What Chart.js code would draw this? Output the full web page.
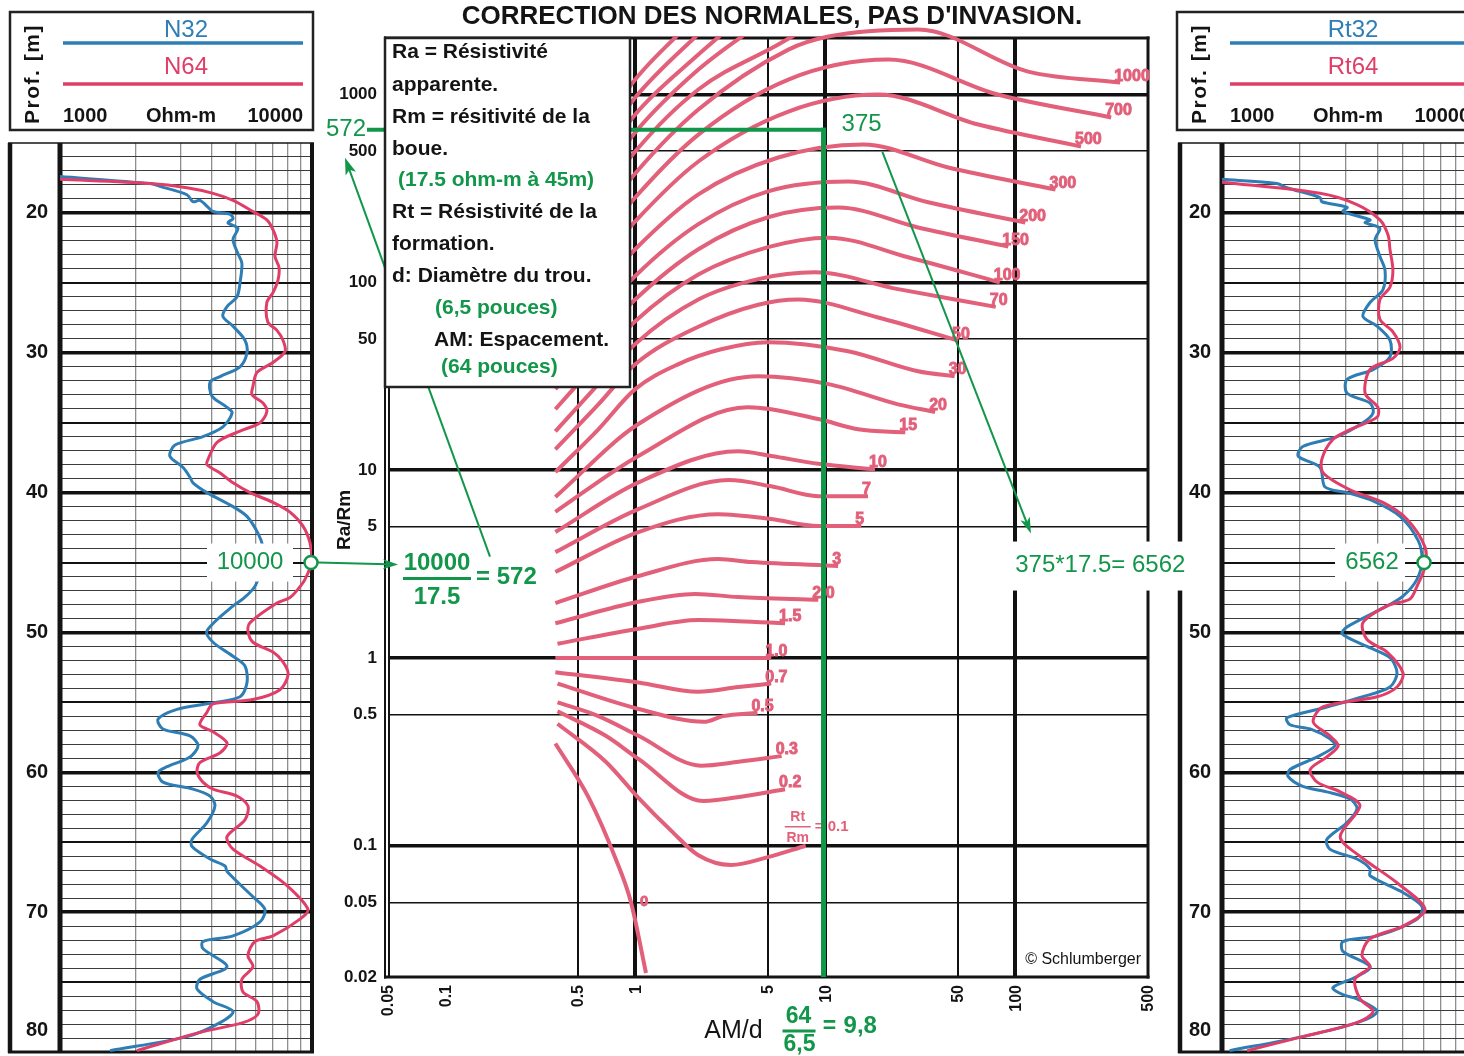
<!DOCTYPE html>
<html><head><meta charset="utf-8">
<script src="https://cdn.jsdelivr.net/npm/chart.js@4.4.1/dist/chart.umd.min.js"></script>
<style>
html,body{margin:0;padding:0;background:#fff;width:1464px;height:1056px;overflow:hidden;position:relative;}
canvas{position:absolute;left:0;top:0;}
</style></head><body>
<canvas id="cL" width="1464" height="1056"></canvas>
<canvas id="cC" width="1464" height="1056"></canvas>
<canvas id="cR" width="1500" height="1056"></canvas>
<canvas id="cO" width="1464" height="1056"></canvas>
<script>
// ---------------- DATA ----------------
// Left log track: [resistivity ohm-m, depth m]
const n32 = [[1000,17.4],[2280,17.9],[2490,18.1],[3190,18.7],[3370,19.2],[3590,19.1],[3870,19.6],[4050,19.9],[4730,20.1],[4860,20.4],[4640,20.7],[5080,21.1],[4860,21.9],[5080,22.9],[5270,23.6],[5180,25.0],[5040,26.0],[4600,26.7],[4430,27.4],[4860,28.1],[5420,29.1],[5520,30.0],[5180,31.0],[4320,31.7],[3940,32.1],[4010,33.1],[4600,33.9],[4820,34.3],[4430,35.3],[3690,36.0],[2860,36.6],[2730,37.4],[3080,38.2],[3280,38.9],[3370,39.3],[3830,40.0],[4860,41.0],[5520,41.7],[6100,42.9],[6390,43.9],[6390,44.8],[6050,46.4],[5830,46.9],[5320,47.6],[4860,48.1],[3830,49.9],[4050,50.7],[4860,51.7],[5420,52.4],[5520,53.6],[5180,54.6],[3830,55.1],[2910,55.5],[2450,56.2],[2560,56.9],[3280,57.4],[3530,58.1],[3280,58.9],[2660,59.6],[2450,60.0],[2560,60.7],[3370,61.2],[3940,61.7],[4120,62.4],[3830,63.6],[3340,64.8],[3340,65.3],[3940,66.2],[4520,66.7],[4600,67.1],[5830,68.9],[6500,69.8],[6220,70.7],[4860,71.7],[3690,72.1],[3690,72.6],[4600,73.9],[3590,74.8],[3500,75.5],[4050,76.4],[4860,77.1],[4320,77.9],[3190,78.9],[1580,79.9]];
const n64 = [[1000,17.6],[2280,17.9],[3190,18.2],[4050,18.6],[4860,19.1],[5830,19.9],[6620,20.5],[7000,21.2],[7260,22.1],[7130,23.1],[7400,23.9],[7330,24.8],[7000,25.7],[6620,26.4],[6680,27.8],[7260,28.4],[7670,29.1],[7820,29.9],[7000,30.7],[6050,31.4],[5830,32.4],[5780,33.0],[6390,33.6],[6620,34.2],[6220,35.0],[5180,35.6],[4200,36.4],[3870,37.6],[3830,38.0],[4320,38.6],[4860,39.3],[5680,40.0],[7000,40.7],[8180,41.4],[9210,42.4],[9820,43.6],[10000,44.9],[9380,46.2],[8800,46.9],[8180,47.5],[7260,47.9],[5680,49.3],[5570,49.9],[5830,50.7],[7000,51.4],[7670,52.1],[8040,53.0],[7460,54.1],[5830,54.8],[4050,55.1],[3830,55.7],[3590,56.6],[4050,57.1],[4600,57.9],[4320,58.6],[3590,59.3],[3500,60.0],[3690,60.7],[4050,61.2],[5040,61.7],[5570,62.4],[5420,63.4],[4600,64.6],[4860,65.5],[6220,66.7],[7960,68.1],[9640,69.8],[8960,70.5],[7000,71.7],[5940,72.1],[5570,73.1],[5830,73.9],[5270,74.8],[5320,75.7],[6050,76.4],[6100,77.3],[5320,77.9],[3590,78.6],[2020,79.9]];
// Right log track (corrected): [resistivity ohm-m, depth m]
const rt32 = [[1000,17.6],[1630,17.9],[1780,18.2],[2390,18.9],[2430,19.2],[3040,19.6],[2930,19.9],[3730,20.5],[3570,20.7],[4070,21.1],[3900,21.9],[4070,23.1],[4260,24.1],[4180,25.5],[3730,26.4],[3500,27.4],[3970,28.1],[4450,29.1],[4450,30.3],[3830,31.2],[3040,31.9],[3040,32.9],[3730,33.6],[3830,34.3],[3500,35.0],[2780,36.0],[2050,36.7],[1970,37.4],[2390,38.2],[2500,39.6],[3040,40.0],[3830,40.6],[4870,41.7],[5710,43.4],[5920,44.8],[5660,46.2],[5000,47.4],[4340,48.1],[3040,49.6],[2910,50.1],[3630,51.0],[4450,51.8],[4740,52.9],[4450,53.9],[3500,54.6],[2460,55.4],[1780,56.1],[1830,56.6],[2190,56.9],[2610,57.6],[2730,58.1],[2330,58.9],[1830,59.8],[1800,60.3],[2050,61.0],[2540,61.4],[3120,61.9],[3320,62.6],[3040,63.6],[2540,64.8],[2610,65.5],[3320,66.2],[3730,66.9],[3730,67.4],[5000,68.6],[5920,69.6],[5660,70.5],[3970,71.7],[2930,72.1],[2930,72.8],[3730,73.9],[3320,74.6],[2680,75.4],[2930,75.9],[3320,76.2],[3970,77.1],[3320,77.9],[2050,78.9],[1070,79.9]];
const rt64 = [[1000,17.8],[2390,18.6],[3320,19.4],[4070,20.5],[4380,21.6],[4450,22.6],[4570,24.1],[4450,25.3],[4070,26.2],[4070,27.6],[4570,28.5],[4870,29.6],[4570,30.4],[3730,31.2],[3570,32.9],[4000,33.9],[3970,34.6],[3120,35.5],[2680,36.2],[2430,37.6],[2460,38.6],[3120,39.8],[4180,40.7],[5180,41.9],[6080,43.9],[6080,45.3],[5660,46.7],[5320,47.6],[4340,48.1],[3500,49.3],[3630,50.5],[4340,51.4],[5000,52.9],[4740,53.9],[3970,54.6],[2460,55.3],[2250,56.4],[2610,57.4],[2810,58.1],[2540,58.9],[2190,59.8],[2330,60.7],[2860,61.4],[3410,62.4],[2860,64.6],[3410,66.0],[4740,67.9],[6080,69.8],[5000,71.0],[3730,71.9],[3470,73.1],[3730,73.9],[3260,74.8],[3410,76.2],[3830,77.1],[3320,77.9],[2050,78.9],[1250,79.9]];

// Center chart: departure curves [AM/d, Ra/Rm] for each Rt/Rm
const c_0    = [[0.38,0.35],[0.57,0.18],[0.79,0.085],[0.95,0.05],[1.14,0.021]];
const c_0_1  = [[0.39,0.446],[0.7,0.28],[1.04,0.18],[1.55,0.12],[2.15,0.089],[3.2,0.079],[5.0,0.087],[7.9,0.1]];
const c_0_2  = [[0.39,0.52],[0.7,0.385],[1.04,0.29],[2.28,0.173],[3.8,0.184],[6.15,0.2]];
const c_0_3  = [[0.39,0.58],[0.64,0.49],[1.04,0.385],[2.22,0.267],[3.5,0.28],[5.9,0.3]];
const c_0_5  = [[0.39,0.73],[1.04,0.535],[2.3,0.457],[2.9,0.49],[4.4,0.51]];
const c_0_7  = [[0.38,0.84],[1.04,0.74],[2.15,0.66],[3.5,0.7],[5.2,0.73]];
const c_1_0  = [[0.38,1],[5.2,1]];
const c_1_5  = [[0.39,1.19],[1.04,1.43],[2.15,1.59],[3.5,1.57],[6.15,1.53]];
const c_2_0  = [[0.38,1.53],[1.04,1.99],[2.07,2.19],[3.48,2.11],[9.2,2.04]];
const c_3    = [[0.38,1.96],[1.04,2.73],[2.73,3.36],[4.1,3.24],[11.7,3.09]];
const c_5    = [[0.38,2.87],[1.04,4.68],[2.73,5.83],[5.2,5.49],[9.2,5.04],[15.5,5.04]];
const c_7    = [[0.38,3.66],[1.04,6.2],[3.1,8.85],[5.2,8.2],[9.2,7.27],[16.8,7.27]];
const c_10   = [[0.38,4.68],[1.04,8.6],[3.48,12.6],[5.2,11.9],[9.2,10.8],[18.3,10.1]];
const c_15   = [[0.38,6.0],[1.04,11.9],[3.9,21.6],[9.2,18.7],[14.9,16.5],[26.4,15.9]];
const c_20   = [[0.38,7.2],[1.04,17.6],[4.44,31.6],[10.4,28.7],[24.2,22.4],[37.9,20.4]];
const c_30   = [[0.38,9.75],[0.64,16.5],[1,27],[1.68,36.6],[2.83,44],[5,48],[13.2,43],[30.8,33.6],[48,31.6]];
const c_50   = [[0.38,12.9],[0.64,22.4],[1,36.6],[2.15,58],[4.44,76],[7.2,81],[19,65],[50,49]];
const c_70   = [[0.38,16.1],[0.64,28.7],[1,47],[2.15,81],[4.44,104],[8.8,113],[24.2,92],[79,74]];
const c_100  = [[0.38,21.1],[0.64,38],[1,62],[2.15,110],[5,154],[10.4,173],[27.3,136],[83,100]];
const c_150  = [[0.38,27],[0.64,50],[1,81],[2.15,150],[5,222],[11.7,250],[30.8,196],[92,155]];
const c_200  = [[0.38,34.4],[0.64,65],[1,108],[2.15,204],[5,305],[13.2,344],[34.8,267],[113,208]];
const c_300  = [[0.38,47],[0.64,90],[1,150],[2.15,294],[5.66,462],[15.8,542],[44.4,409],[163,312]];
const c_500  = [[0.38,64],[0.64,123],[1,211],[2.15,440],[6.4,812],[19,1000],[64,692],[222,529]];
const c_700  = [[0.38,81],[0.64,161],[1,283],[2.15,612],[6.4,1202],[21.5,1535],[81,1000],[320,755]];
const c_1000 = [[0.38,104],[0.64,211],[1,380],[2.15,832],[6.4,1735],[10.4,2036],[30.8,2218],[117,1325],[357,1158]];
const c_hi1  = [[0.38,129],[0.64,267],[1,497],[2.15,1064],[5.66,1845],[8.6,2357]];
const c_hi2  = [[0.38,160],[0.64,332],[1,628],[2.15,1358],[4.44,2357]];
const c_hi3  = [[0.38,196],[0.64,414],[1,783],[2.15,1632],[3.28,2357]];
const c_hi4  = [[0.38,242],[0.64,510],[1,964],[2.42,2357]];
const c_hi5  = [[0.38,297],[0.64,628],[1,1202],[1.9,2357]];
const curveList   = [c_0,c_0_1,c_0_2,c_0_3,c_0_5,c_0_7,c_1_0,c_1_5,c_2_0,c_3,c_5,c_7,c_10,c_15,c_20,c_30,c_50,c_70,c_100,c_150,c_200,c_300,c_500,c_700,c_1000,c_hi1,c_hi2,c_hi3,c_hi4,c_hi5];
const curveLabels = ['0','0.1','0.2','0.3','0.5','0.7','1.0','1.5','2.0','3','5','7','10','15','20','30','50','70','100','150','200','300','500','700','1000','','','','',''];

// Axes ticks
const xTicks = [0.05,0.1,0.5,1,5,10,50,100,500];
const xTickLabels = ['0.05','0.1','0.5','1','5','10','50','100','500'];
const yTicks = [0.02,0.05,0.1,0.5,1,5,10,50,100,500,1000,2000];
const yTickLabels = ['0.02','0.05','0.1','0.5','1','5','10','50','100','500','1000',''];
const ohmGrid = [1000,2000,3000,4000,5000,6000,7000,8000,9000,10000];
const ohmLabels = ['1000','Ohm-m','10000'];
const depthLabels = [20,30,40,50,60,70,80];

// Worked example values
const readDepth = 45;        // m
const raRead = 10000;        // ohm-m
const rmMud = 17.5;          // ohm-m
const raRmCalc = 572;        // as written on the chart
const amSpacing = 64, holeDiam = 6.5, amdRatio = 9.8;
const raRmLine = 650;        // level of the green horizontal line as drawn
const rtRmRead = 375, rtResult = 6562;

// ---------------- STYLE ----------------
const FONT = '"Liberation Sans", Arial, Helvetica, sans-serif';
const BLUE = '#2e7db5', RED = '#e03e68', PINK = '#e2607a', GREEN = '#12964a', INK = '#141414';
Chart.defaults.font.family = FONT;

function seg(ctx,x1,y1,x2,y2,w){ctx.lineWidth=w;ctx.beginPath();ctx.moveTo(x1,y1);ctx.lineTo(x2,y2);ctx.stroke();}
function arrow(ctx,x1,y1,x2,y2,w,hl,hw){
  const a=Math.atan2(y2-y1,x2-x1), c=Math.cos(a), s=Math.sin(a);
  const bx=x2-hl*c, by=y2-hl*s;
  seg(ctx,x1,y1,bx+hl*0.3*c,by+hl*0.3*s,w);
  ctx.beginPath();ctx.moveTo(x2,y2);
  ctx.lineTo(bx+hw/2*s,by-hw/2*c);
  ctx.lineTo(bx+hl*0.25*c,by+hl*0.25*s);
  ctx.lineTo(bx-hw/2*s,by+hw/2*c);ctx.closePath();ctx.fill();
}
function txt(ctx,t,x,y,font,color,align,base){ctx.font=font;ctx.fillStyle=color;ctx.textAlign=align||'left';ctx.textBaseline=base||'middle';ctx.fillText(t,x,y);}
function heavy(ctx,t,x,y,font,color,align,base){txt(ctx,t,x,y,font,color,align,base);ctx.strokeStyle=color;ctx.lineWidth=0.9;ctx.strokeText(t,x,y);}
function nearestAt(series,depth){let b=series[0];for(const p of series){if(Math.abs(p[1]-depth)<Math.abs(b[1]-depth))b=p;}return b;}

// ---------------- TRACKS ----------------
function trackPlugin(cfg){
  return {
    id:'track'+cfg.key,
    beforeDatasetsDraw(chart){
      const {ctx,chartArea:a}=chart;
      ctx.save();ctx.strokeStyle=INK;
      seg(ctx,a.left-cfg.colW,a.top,a.left-cfg.colW,a.bottom+1,4.5);
      seg(ctx,a.left,a.top,a.left,a.bottom,5);
      seg(ctx,a.right,a.top,a.right,a.bottom,4);
      seg(ctx,a.left-cfg.colW-2,a.top,a.right+2,a.top,1.5);
      seg(ctx,a.left-cfg.colW-2,a.bottom,a.right+2,a.bottom,3);
      ctx.restore();
    },
    afterDraw(chart){
      const {ctx,chartArea:a,scales:{x,y}}=chart;
      ctx.save();
      for(const d of depthLabels){
        const py=Math.min(y.getPixelForValue(d),a.bottom-22);
        txt(ctx,String(d),a.left-cfg.lblOff,py,'bold 20px '+FONT,INK,'center','middle');
      }
      const L=cfg.boxLeft,T=12,W=303,H=118;
      ctx.fillStyle='#fff';ctx.fillRect(L,T,W,H);
      ctx.strokeStyle='#222';ctx.lineWidth=2.5;ctx.strokeRect(L,T,W,H);
      ctx.save();ctx.translate(L+23,T+62);ctx.rotate(-Math.PI/2);
      if('letterSpacing' in ctx) ctx.letterSpacing='1.5px';
      txt(ctx,'Prof. [m]',0,0,'bold 21px '+FONT,INK,'center','middle');ctx.restore();
      txt(ctx,cfg.names[0],L+176,T+18,'24px '+FONT,BLUE,'center','middle');
      ctx.strokeStyle=BLUE;seg(ctx,L+53,T+31,L+293,T+31,3.5);
      txt(ctx,cfg.names[1],L+176,T+55,'24px '+FONT,RED,'center','middle');
      ctx.strokeStyle=RED;seg(ctx,L+53,T+72,L+293,T+72,3.5);
      txt(ctx,ohmLabels[0],L+53,T+104,'bold 20px '+FONT,INK,'left','middle');
      txt(ctx,ohmLabels[1],L+171,T+104,'bold 20px '+FONT,INK,'center','middle');
      txt(ctx,ohmLabels[2],L+293,T+104,'bold 20px '+FONT,INK,'right','middle');
      const p=nearestAt(cfg.s64,readDepth);
      const cx=x.getPixelForValue(p[0]), cy=y.getPixelForValue(readDepth);
      ctx.fillStyle='#fff';ctx.fillRect(cx-cfg.boxL,cy-19,cfg.boxL-cfg.boxR,38);
      txt(ctx,cfg.readLabel,cx-cfg.lblC,cy,'24px '+FONT,GREEN,'center','middle');
      ctx.beginPath();ctx.arc(cx-1,cy,6.5,0,Math.PI*2);ctx.fillStyle='#fff';ctx.fill();
      ctx.strokeStyle=GREEN;ctx.lineWidth=2.5;ctx.stroke();
      ctx.restore();
    }
  };
}
function trackConfig(cfg,padding){
  const ds=(d,color,order)=>({data:d.map(p=>({x:p[0],y:p[1]})),showLine:true,borderColor:color,borderWidth:3,pointRadius:0,pointHoverRadius:0,tension:0.3,order:order});
  return {
    type:'scatter',
    data:{datasets:[ds(cfg.s64,RED,0),ds(cfg.s32,BLUE,1)]},
    options:{
      responsive:false,animation:false,devicePixelRatio:1,events:[],
      layout:{padding:padding},
      plugins:{legend:{display:false},tooltip:{enabled:false}},
      scales:{
        x:{type:'logarithmic',min:1000,max:10000,position:'bottom',
          afterBuildTicks:s=>{s.ticks=ohmGrid.map(v=>({value:v}));},
          afterFit:s=>{s.height=0;},
          ticks:{display:false},border:{display:false},
          grid:{drawTicks:false,color:'#8e8e8e',lineWidth:c=>(c.tick&&(c.tick.value===1000||c.tick.value===10000))?0:1.3}},
        y:{type:'linear',reverse:true,min:15,max:80,
          afterBuildTicks:s=>{const t=[];for(let d=15;d<=80;d++)t.push({value:d});s.ticks=t;},
          afterFit:s=>{s.width=0;},
          ticks:{display:false},border:{display:false},
          grid:{drawTicks:false,
            color:c=>{const v=c.tick?c.tick.value:0;return v%5===0?'#111':'#3c3c3c';},
            lineWidth:c=>{const v=c.tick?c.tick.value:0;if(v===15||v===80)return 0;return v%10===0?3.5:(v%5===0?2:1);}}}
      }
    },
    plugins:[trackPlugin(cfg)]
  };
}
const leftCfg={key:'L',s32:n32,s64:n64,names:['N32','N64'],colW:50,lblOff:23,boxLeft:10,readLabel:String(raRead),boxL:105,boxR:19,lblC:62};
const rightCfg={key:'R',s32:rt32,s64:rt64,names:['Rt32','Rt64'],colW:42,lblOff:22,boxLeft:1177,readLabel:String(rtResult),boxL:90,boxR:20,lblC:53};
const leftChart=new Chart(document.getElementById('cL'),trackConfig(leftCfg,{left:60,top:143,right:1464-312,bottom:4}));

// ---------------- CENTER ----------------
const xGridW={0.05:0,0.1:0,0.5:2,1:4,5:2,10:4,50:2,100:4,500:0};
const yGridW={0.02:0,0.05:1.5,0.1:3.5,0.5:1.5,1:3.5,5:1.5,10:3.5,50:1.5,100:3.5,500:1.5,1000:3.5,2000:0};
const centerPlugin={
  id:'centerDecor',
  beforeDatasetsDraw(chart){
    const {ctx,chartArea:a}=chart;
    ctx.save();ctx.strokeStyle=INK;
    seg(ctx,a.left-3,a.top-1.5,a.left-3,a.bottom+1.5,2);
    seg(ctx,a.left+1,a.top,a.left+1,a.bottom,2);
    seg(ctx,a.right,a.top-1.5,a.right,a.bottom+1.5,3);
    seg(ctx,a.left-4,a.top,a.right+1.5,a.top,3);
    seg(ctx,a.left-4,a.bottom,a.right+1.5,a.bottom,3);
    ctx.restore();
  },
  afterDatasetsDraw(chart){
    const {ctx,chartArea:a,scales:{x,y}}=chart;
    ctx.save();
    curveList.forEach((c,i)=>{
      const lab=curveLabels[i]; if(!lab)return;
      const e=c[c.length-1]; const px=x.getPixelForValue(e[0]), py=y.getPixelForValue(e[1]);
      if(lab==='0'){
        const m=c[3];heavy(ctx,lab,x.getPixelForValue(m[0])+9,y.getPixelForValue(m[1]),'bold 15px '+FONT,PINK,'left','middle');
      }else if(lab==='0.1'){
        txt(ctx,'Rt',px-8,py-29,'bold 14px '+FONT,PINK,'center','middle');
        ctx.strokeStyle=PINK;seg(ctx,px-21,py-19,px+5,py-19,1.5);
        txt(ctx,'Rm',px-8,py-8,'bold 14px '+FONT,PINK,'center','middle');
        txt(ctx,'= 0.1',px+9,py-19,'bold 15px '+FONT,PINK,'left','middle');
      }else{
        heavy(ctx,lab,px-6,py-2,'bold 16px '+FONT,PINK,'left','alphabetic');
      }
    });
    const xv=x.getPixelForValue(amdRatio), yl=y.getPixelForValue(raRmLine);
    ctx.strokeStyle=GREEN;
    seg(ctx,xv,yl-2,xv,a.bottom,5);
    seg(ctx,a.left-21,yl,xv+2.5,yl,4);
    ctx.restore();
  },
  afterDraw(chart){
    const {ctx,chartArea:a,scales:{x}}=chart;
    ctx.save();
    xTicks.forEach((v,i)=>{
      const px=x.getPixelForValue(v);
      ctx.save();ctx.translate(px+1,a.bottom+8);ctx.rotate(-Math.PI/2);
      txt(ctx,xTickLabels[i],0,0,'bold 16px '+FONT,INK,'right','middle');ctx.restore();
    });
    ctx.restore();
  }
};
const centerChart=new Chart(document.getElementById('cC'),{
  type:'scatter',
  data:{datasets:curveList.map((c,i)=>({
    data:c.map(p=>({x:p[0],y:p[1]})),showLine:true,borderColor:PINK,borderWidth:4,
    pointRadius:0,pointHoverRadius:0,cubicInterpolationMode:'monotone',borderCapStyle:'butt',
    clip:(curveLabels[i]==='1000')?{left:0,top:14,right:0,bottom:0}:2}))},
  options:{
    responsive:false,animation:false,devicePixelRatio:1,events:[],
    layout:{padding:{left:388-64,top:38,right:1464-1148,bottom:1056-977}},
    plugins:{legend:{display:false},tooltip:{enabled:false}},
    scales:{
      x:{type:'logarithmic',min:0.05,max:500,
        afterBuildTicks:s=>{s.ticks=xTicks.map(v=>({value:v}));},
        afterFit:s=>{s.height=0;},
        ticks:{display:false},border:{display:false},
        grid:{drawTicks:false,color:'#111',lineWidth:c=>c.tick?(xGridW[c.tick.value]||0):0}},
      y:{type:'logarithmic',min:0.02,max:2000,
        afterBuildTicks:s=>{s.ticks=yTicks.map(v=>({value:v}));},
        afterFit:s=>{s.width=64;},
        border:{display:false},
        ticks:{display:true,autoSkip:false,padding:11,color:INK,font:{family:FONT,size:17,weight:'bold'},
          callback:(v)=>{const i=yTicks.indexOf(v);return i>=0?yTickLabels[i]:'';}},
        grid:{drawTicks:false,color:'#111',lineWidth:c=>c.tick?(yGridW[c.tick.value]||0):0}}
    }
  },
  plugins:[centerPlugin]
});
const rightChart=new Chart(document.getElementById('cR'),trackConfig(rightCfg,{left:1222,top:143,right:1500-1481,bottom:4}));

// ---------------- OVERLAY ----------------
const legendLines=[
  ['Ra = Résistivité',INK,0],['apparente.',INK,0],['Rm = résitivité de la',INK,0],['boue.',INK,0],
  ['(17.5 ohm-m à 45m)',GREEN,6],['Rt = Résistivité de la',INK,0],['formation.',INK,0],
  ['d: Diamètre du trou.',INK,0],['(6,5 pouces)',GREEN,43],['AM: Espacement.',INK,42],['(64 pouces)',GREEN,49]];
const legendY=[14,47,79,111,142,174,206,238,270,302,329];
function drawOverlay(){
  const ctx=document.getElementById('cO').getContext('2d');
  const cx=centerChart.scales.x, cy=centerChart.scales.y, ca=centerChart.chartArea;
  const lx=leftChart.scales.x, ly=leftChart.scales.y;
  const yRead=ly.getPixelForValue(readDepth);
  const circX=lx.getPixelForValue(nearestAt(n64,readDepth)[0]);
  const yl=cy.getPixelForValue(raRmLine), xv=cx.getPixelForValue(amdRatio);
  ctx.strokeStyle=GREEN;ctx.fillStyle=GREEN;
  arrow(ctx,ca.left+102,yRead-6,ca.left-43,yl+28,2,17,11);
  const bx=ca.left-3,by=ca.top,bw=245,bh=349;
  ctx.fillStyle='#fff';ctx.fillRect(bx,by,bw,bh);
  ctx.strokeStyle='#222';ctx.lineWidth=2.5;ctx.strokeRect(bx,by,bw,bh);
  legendLines.forEach((l,i)=>txt(ctx,l[0],bx+7+l[2],by+legendY[i],'bold 21px '+FONT,l[1],'left','middle'));
  txt(ctx,String(raRmCalc),ca.left-22,yl,'24px '+FONT,GREEN,'right','middle');
  ctx.strokeStyle=GREEN;ctx.fillStyle=GREEN;
  arrow(ctx,circX+6,yRead,ca.left+10,yRead+2,2,15,10);
  const fx=ca.left+49;
  txt(ctx,String(raRead),fx,yRead+1,'bold 24px '+FONT,GREEN,'center','middle');
  ctx.strokeStyle=GREEN;seg(ctx,fx-34,yRead+16,fx+34,yRead+16,3);
  txt(ctx,String(rmMud),fx,yRead+35,'bold 24px '+FONT,GREEN,'center','middle');
  txt(ctx,'= '+raRmCalc,fx+39,yRead+15,'bold 24px '+FONT,GREEN,'left','middle');
  txt(ctx,String(rtRmRead),xv+18,yl-5,'24px '+FONT,GREEN,'left','middle');
  ctx.strokeStyle=GREEN;ctx.fillStyle=GREEN;
  arrow(ctx,cx.getPixelForValue(20),cy.getPixelForValue(495),cx.getPixelForValue(121),cy.getPixelForValue(4.6),2,16,10);
  const rx=cx.getPixelForValue(100);
  ctx.fillStyle='#fff';ctx.fillRect(rx-7,yRead-21,185,49);
  txt(ctx,rtRmRead+'*'+rmMud+'= '+rtResult,rx,yRead+3,'24px '+FONT,GREEN,'left','middle');
  txt(ctx,'CORRECTION DES NORMALES, PAS D\'INVASION.',(ca.left+ca.right)/2+4,17,'bold 26px '+FONT,INK,'center','middle');
  ctx.save();ctx.translate(ca.left-43,520);ctx.rotate(-Math.PI/2);
  txt(ctx,'Ra/Rm',0,0,'bold 19px '+FONT,INK,'center','middle');ctx.restore();
  txt(ctx,'AM/d',xv-90,1031,'25px '+FONT,INK,'center','middle');
  txt(ctx,String(amSpacing),xv-25,1017,'bold 23px '+FONT,GREEN,'center','middle');
  ctx.strokeStyle=GREEN;seg(ctx,xv-41,1031,xv-8,1031,3);
  txt(ctx,String(holeDiam).replace('.',','),xv-24,1045,'bold 23px '+FONT,GREEN,'center','middle');
  txt(ctx,'=',xv+6,1027,'bold 23px '+FONT,GREEN,'center','middle');
  txt(ctx,String(amdRatio).replace('.',','),xv+20,1026,'bold 24px '+FONT,GREEN,'left','middle');
  txt(ctx,'\u00A9 Schlumberger',ca.right-7,ca.bottom-17,'16px '+FONT,INK,'right','middle');
}
drawOverlay();
</script></body></html>
